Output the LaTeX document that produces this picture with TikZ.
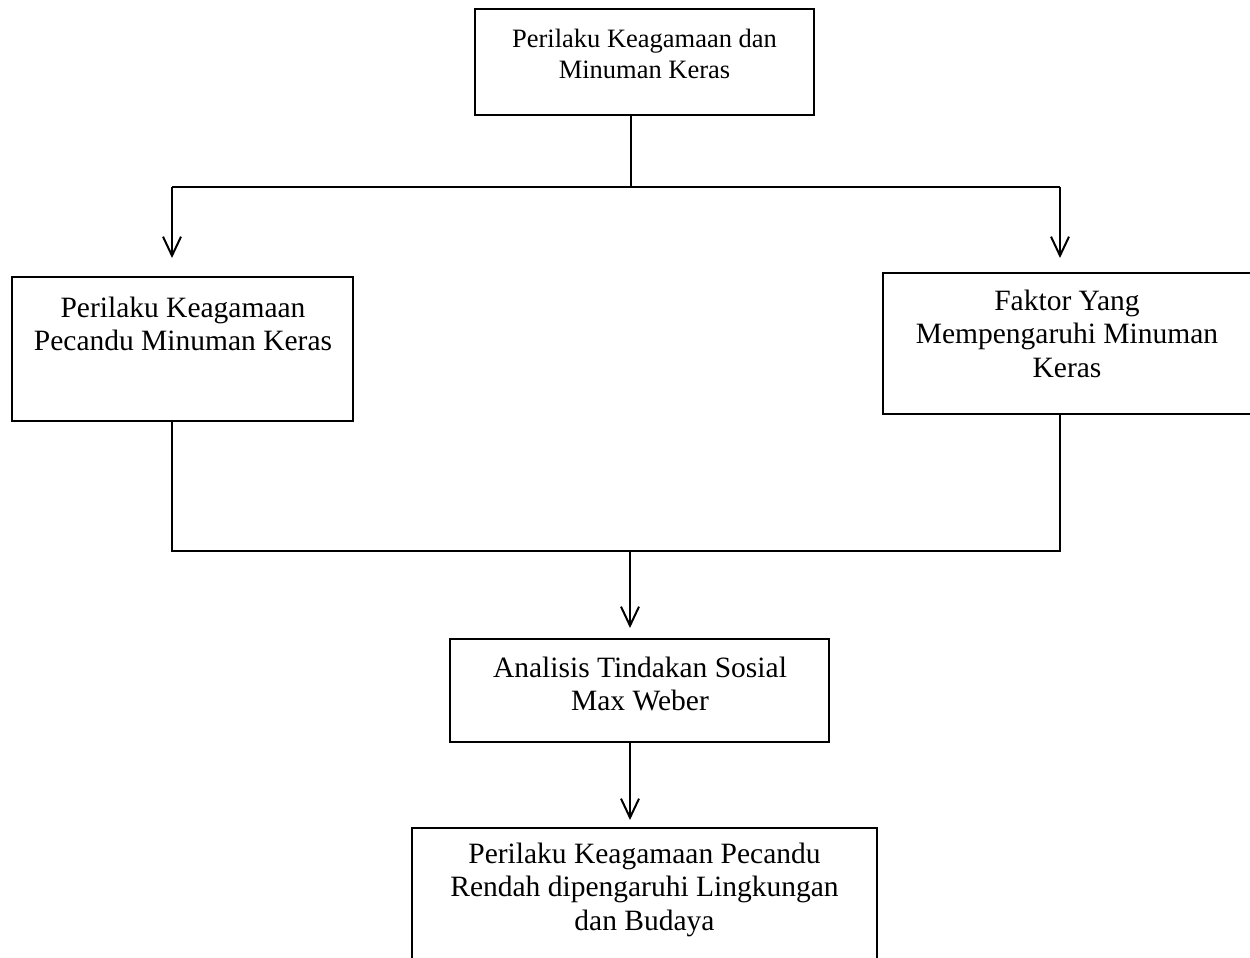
\documentclass[tikz,border=0pt]{standalone}
\usepackage{fontspec}
\setmainfont{Liberation Serif}
\usetikzlibrary{arrows.meta}
\tikzset{
  box/.style={draw, line width=1.2pt, inner sep=0pt, rectangle},
  txt/.style={anchor=north, align=center, inner sep=0pt, font=\fontsize{17.7}{20.1}\selectfont},
  txtsmall/.style={anchor=north, align=center, inner sep=0pt, font=\fontsize{15.9}{18.3}\selectfont},
  conn/.style={line width=1.2pt},
  arr/.style={line width=1.2pt, -{Straight Barb[length=11.4pt, width=10.8pt]}}
}
\begin{document}
\begin{tikzpicture}[x=0.6pt, y=-0.6pt]
\useasboundingbox (0,0) rectangle (1250,958);
\clip (0,0) rectangle (1250,958);
% boxes
\node[box, minimum width={339*0.6pt}, minimum height={106*0.6pt}] (top) at (644.5,62) {};
\node[box, minimum width={341*0.6pt}, minimum height={144*0.6pt}] (left) at (182.5,349) {};
\node[box, minimum width={370*0.6pt}, minimum height={141*0.6pt}] (right) at (1068,343.5) {};
\node[box, minimum width={379*0.6pt}, minimum height={103*0.6pt}] (ana) at (639.5,690.5) {};
\node[box, minimum width={465*0.6pt}, minimum height={137*0.6pt}] (bot) at (644.5,896.5) {};
% texts
\node[txtsmall] (topt) at (644.5,29) {Perilaku Keagamaan dan\\Minuman Keras};
\node[txt] (leftt) at (183,296.5) {Perilaku Keagamaan\\Pecandu Minuman Keras};
\node[txt] (rightt) at (1067,289.5) {Faktor Yang\\Mempengaruhi Minuman\\Keras};
\node[txt] (anat) at (640,656.5) {Analisis Tindakan Sosial\\Max Weber};
\node[txt] (bott) at (644.5,842.5) {Perilaku Keagamaan Pecandu\\Rendah dipengaruhi Lingkungan\\dan Budaya};
% junctions
\coordinate (j1) at (631,187);
\coordinate (jL) at (172,187);
\coordinate (jR) at (1060,187);
\coordinate (aL) at (172,258);
\coordinate (aR) at (1060,258);
\coordinate (k1) at (172,551);
\coordinate (k2) at (1060,551);
\coordinate (k3) at (630,551);
\coordinate (a3) at (630,628);
\coordinate (a4) at (630,820);
% connectors
\draw[conn] (top.south -| j1) -- (j1);
\draw[conn] (jL) -- (jR);
\draw[arr] (jL) -- (aL);
\draw[arr] (jR) -- (aR);
\draw[conn] (left.south -| k1) -- (k1) -- (k2) -- (right.south -| k2);
\draw[arr] (k3) -- (a3);
\draw[arr] (ana.south -| k3) -- (a4);
\end{tikzpicture}
\end{document}
